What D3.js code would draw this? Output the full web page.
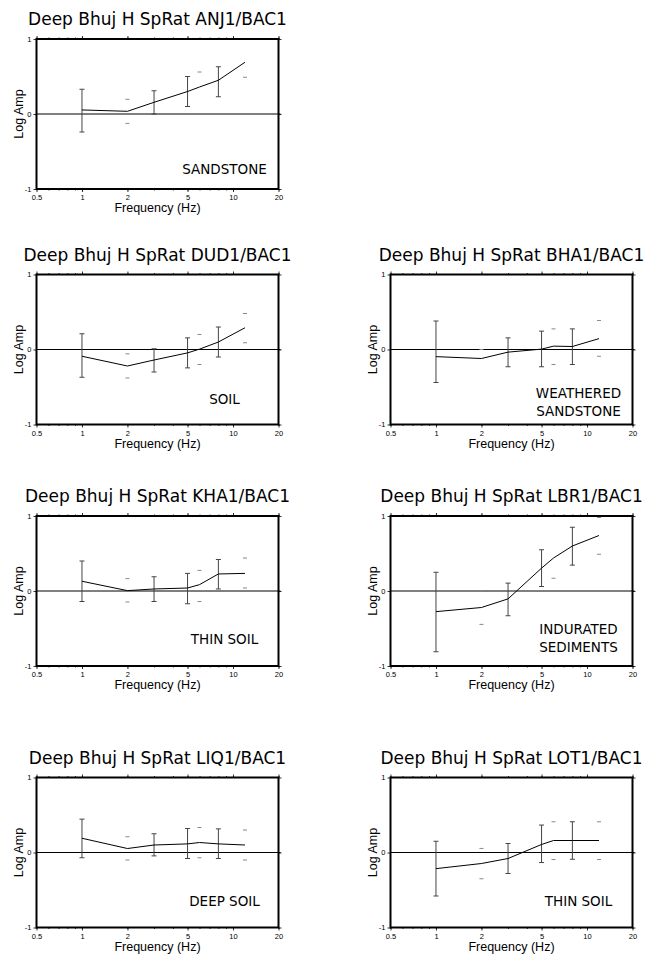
<!DOCTYPE html>
<html><head><meta charset="utf-8">
<script src="https://cdn.jsdelivr.net/npm/d3@7"></script>
<style>body{margin:0;background:#fff}</style>
</head><body>
<script>
// ---- data ----
const freqs = [1, 2, 3, 5, 6, 8, 12];
const fullBar = [true, false, true, true, false, true, false];
const xMajorTicks = [0.5, 1, 2, 5, 10, 20];
const xTickLabels = ["0.5", "1", "2", "5", "10", "20"];
const yTicks = [-1, 0, 1];
const yTickLabels = ["-1", "0", "1"];
const stations = ["ANJ1", "DUD1", "BHA1", "KHA1", "LBR1", "LIQ1", "LOT1"];
const siteLabels = [["SANDSTONE"], ["SOIL"], ["WEATHERED", "SANDSTONE"], ["THIN SOIL"], ["INDURATED", "SEDIMENTS"], ["DEEP SOIL"], ["THIN SOIL"]];

const meanANJ1 = [0.054, 0.036, 0.156, 0.30, 0.36, 0.45, 0.69];
const hiANJ1   = [0.33, 0.196, 0.31, 0.50, 0.56, 0.63, null];
const loANJ1   = [-0.24, -0.125, 0.0, 0.10, null, 0.23, 0.49];

const meanDUD1 = [-0.09, -0.22, -0.14, -0.045, 0.005, 0.10, 0.29];
const hiDUD1   = [0.21, -0.058, 0.01, 0.155, 0.20, 0.30, 0.48];
const loDUD1   = [-0.37, -0.38, -0.30, -0.245, -0.20, -0.10, 0.09];

const meanBHA1 = [-0.095, -0.12, -0.035, 0.005, 0.045, 0.04, 0.145];
const hiBHA1   = [0.38, 0.0, 0.155, 0.245, 0.275, 0.275, 0.387];
const loBHA1   = [-0.44, null, -0.23, -0.23, -0.20, -0.20, -0.09];

const meanKHA1 = [0.13, 0.005, 0.027, 0.04, 0.085, 0.227, 0.235];
const hiKHA1   = [0.40, 0.165, 0.19, 0.235, 0.275, 0.42, 0.44];
const loKHA1   = [-0.14, -0.147, -0.14, -0.17, -0.14, 0.027, 0.04];

const meanLBR1 = [-0.275, -0.22, -0.105, 0.305, 0.44, 0.60, 0.74];
const hiLBR1   = [0.25, 0.0, 0.105, 0.55, null, 0.85, 0.98];
const loLBR1   = [-0.81, -0.445, -0.33, 0.06, 0.17, 0.345, 0.49];

const meanLIQ1 = [0.19, 0.053, 0.10, 0.115, 0.133, 0.115, 0.10];
const hiLIQ1   = [0.445, 0.21, 0.25, 0.32, 0.333, 0.315, 0.30];
const loLIQ1   = [-0.07, -0.10, -0.045, -0.08, -0.07, -0.08, -0.10];

const meanLOT1 = [-0.215, -0.147, -0.08, 0.107, 0.16, 0.16, 0.16];
const hiLOT1   = [0.15, 0.054, 0.12, 0.366, 0.41, 0.41, 0.41];
const loLOT1   = [-0.58, -0.35, -0.28, -0.134, -0.094, -0.09, -0.094];

const means = [meanANJ1, meanDUD1, meanBHA1, meanKHA1, meanLBR1, meanLIQ1, meanLOT1];
const his = [hiANJ1, hiDUD1, hiBHA1, hiKHA1, hiLBR1, hiLIQ1, hiLOT1];
const los = [loANJ1, loDUD1, loBHA1, loKHA1, loLBR1, loLIQ1, loLOT1];

// ---- layout ----
const W = 658, H = 956, PW = 242, PH = 150;
const origins = [[36.5, 39], [36.5, 274.5], [390.5, 274.5], [36.5, 516], [390.5, 516], [36.5, 777.5], [390.5, 777.5]];
const labelBottom = [15.5, 20.5, 9, 22, 14.5, 21.5, 21.5]; // px above frame bottom for last text line

const svg = d3.select("body").append("svg").attr("width", W).attr("height", H)
  .style("font-family", "'Liberation Sans', Arial, sans-serif");

stations.forEach((st, i) => {
  const [ox, oy] = origins[i];
  const g = svg.append("g").attr("transform", `translate(${ox},${oy})`);
  const x = d3.scaleLog().domain([0.5, 20]).range([0, PW]);
  const y = d3.scaleLinear().domain([-1, 1]).range([PH, 0]);

  // title
  g.append("text").attr("x", PW / 2).attr("y", -14).attr("text-anchor", "middle")
    .style("font-family", "'DejaVu Sans', sans-serif").style("font-size", "17px")
    .text(`Deep Bhuj H SpRat ${st}/BAC1`);

  // axes (ticks)
  const styleAxis = sel => {
    sel.select(".domain").remove();
    sel.selectAll("line").attr("stroke", "#000").attr("stroke-width", 0.8);
    sel.selectAll("text").style("font-size", "7.5px").attr("fill", "#000");
  };
  g.append("g").attr("transform", `translate(0,${PH})`)
    .call(d3.axisBottom(x).tickValues(xMajorTicks).tickSize(3).tickPadding(3)
      .tickFormat((d, k) => xTickLabels[k]))
    .call(styleAxis);
  g.append("g").attr("transform", `translate(0,${PH})`)
    .call(d3.axisBottom(x).tickValues(x.ticks()).tickSize(1.5).tickFormat(""))
    .call(styleAxis);
  g.append("g")
    .call(d3.axisTop(x).tickValues(xMajorTicks).tickSize(3).tickFormat(""))
    .call(styleAxis);
  g.append("g")
    .call(d3.axisTop(x).tickValues(x.ticks()).tickSize(1.5).tickFormat(""))
    .call(styleAxis);
  g.append("g")
    .call(d3.axisLeft(y).tickValues(yTicks).tickSize(3).tickPadding(2)
      .tickFormat((d, k) => yTickLabels[k]))
    .call(styleAxis);
  g.append("g").attr("transform", `translate(${PW},0)`)
    .call(d3.axisRight(y).tickValues(yTicks).tickSize(3).tickFormat(""))
    .call(styleAxis);

  // zero line
  g.append("line").attr("x1", 0).attr("x2", PW + 2).attr("y1", y(0)).attr("y2", y(0))
    .attr("stroke", "#000").attr("stroke-width", 1);

  // error bars
  const pts = freqs.map((f, k) => ({ f, m: means[i][k], hi: his[i][k], lo: los[i][k], full: fullBar[k] }));
  const bars = g.append("g").attr("stroke", "#444").attr("stroke-width", 1);
  pts.filter(p => p.full).forEach(p => {
    bars.append("line").attr("x1", x(p.f)).attr("x2", x(p.f)).attr("y1", y(p.hi)).attr("y2", y(p.lo));
  });
  pts.forEach(p => {
    const hw = p.full ? 2.5 : 2;
    const col = p.full ? "#444" : "#888";
    [p.hi, p.lo].forEach(v => {
      if (v === null) return;
      bars.append("line").attr("x1", x(p.f) - hw).attr("x2", x(p.f) + hw)
        .attr("y1", y(v)).attr("y2", y(v)).attr("stroke", col);
    });
  });

  // mean line
  g.append("path").datum(pts)
    .attr("d", d3.line().x(p => x(p.f)).y(p => y(p.m)))
    .attr("fill", "none").attr("stroke", "#000").attr("stroke-width", 1);

  // frame
  g.append("rect").attr("x", 0).attr("y", 0).attr("width", PW).attr("height", PH)
    .attr("fill", "none").attr("stroke", "#000").attr("stroke-width", 2);

  // axis titles
  g.append("text").attr("x", PW / 2).attr("y", PH + 23).attr("text-anchor", "middle")
    .style("font-size", "12.5px").text("Frequency (Hz)");
  g.append("text").attr("transform", `translate(-14,${PH / 2}) rotate(-90)`)
    .attr("text-anchor", "middle").style("font-size", "12.5px").text("Log Amp");

  // site label
  const lines = siteLabels[i];
  lines.forEach((t, k) => {
    g.append("text").attr("x", PW - 54)
      .attr("y", PH - labelBottom[i] - (lines.length - 1 - k) * 17.4)
      .attr("text-anchor", "middle")
      .style("font-family", "'DejaVu Sans', sans-serif").style("font-size", "13.5px")
      .text(t);
  });
});
</script>
</body></html>
